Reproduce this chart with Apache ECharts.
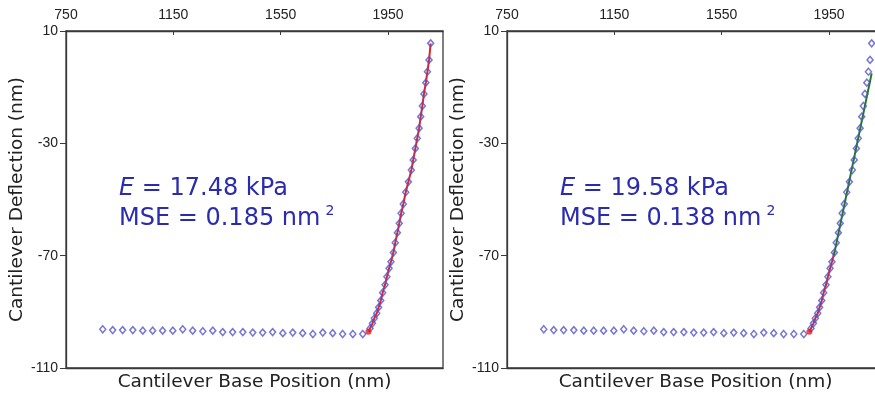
<!DOCTYPE html>
<html>
<head>
<meta charset="utf-8">
<script src="https://cdn.jsdelivr.net/npm/echarts@6/dist/echarts.min.js"></script>
<style>
  html, body { margin: 0; background: #fff; }
  #chart { width: 875px; height: 396px; }
</style>
</head>
<body>
<div id="chart"></div>
<script>
// Approach (flat) part of the force curve
const flatX = [887, 924, 961, 999, 1036, 1073, 1110, 1148, 1185, 1222, 1260, 1297, 1334, 1371,
  1409, 1446, 1483, 1520, 1558, 1595, 1632, 1670, 1707, 1744, 1781, 1819, 1856];
const flatY = [-96.2, -96.5, -96.5, -96.5, -96.7, -96.7, -96.7, -96.7, -96.2, -96.7, -96.9, -96.7, -97.2, -97.2,
  -97.2, -97.4, -97.4, -97.2, -97.6, -97.4, -97.6, -97.9, -97.4, -97.6, -97.9, -97.9, -97.9];

// contact point
const contactX = [1877];
const contactY = [-97.1];

// indentation (steep) part
const riseX = [1883, 1892, 1899, 1908, 1915, 1923, 1930, 1939, 1946, 1954, 1961, 1970, 1977, 1985,
  1992, 1999, 2007, 2016, 2026, 2037, 2044, 2052, 2059, 2066, 2072, 2078, 2084, 2091, 2097, 2103, 2109];
const riseY = [-95.9, -94.1, -92.3, -90.5, -88.4, -86.0, -83.2, -80.4, -77.5, -74.5, -72.2, -68.9, -65.4, -61.8,
  -58.5, -54.9, -51.6, -47.4, -43.7, -39.5, -35.9, -31.8, -28.2, -24.6, -20.5, -16.7, -12.4, -8.4, -4.5, -0.3, 5.6];

// fitted lines
const fitLeftX = [1877, 1883, 1892, 1899, 1908, 1915, 1923, 1930, 1939, 1946, 1954, 1961, 1970, 1977, 1985,
  1992, 1999, 2007, 2016, 2026, 2037, 2044, 2052, 2059, 2066, 2072, 2078, 2084, 2091, 2097, 2103, 2109];
const fitLeftY = [-97.1, -95.9, -94.1, -92.3, -90.5, -88.4, -86.0, -83.2, -80.4, -77.5, -74.5, -72.2, -68.9, -65.4, -61.8,
  -58.5, -54.9, -51.6, -47.4, -43.7, -39.5, -35.9, -31.8, -28.2, -24.6, -20.5, -16.7, -12.4, -8.4, -4.5, -0.3, 5.6];
const fitRightRedX = [1877, 1883, 1892, 1899, 1908, 1915, 1923, 1930, 1939, 1946, 1954, 1961, 1970];
const fitRightRedY = [-97.1, -95.9, -94.1, -92.3, -90.5, -88.4, -86.0, -83.2, -80.4, -77.5, -74.5, -72.2, -68.9];
const fitRightGreenX = [1968, 2109];
const fitRightGreenY = [-70.0, -5.1];

const xTicks = [750, 1150, 1550, 1950];
const yTicks = [-110, -70, -30, 10];
const xTitle = 'Cantilever Base Position (nm)';
const yTitle = 'Cantilever Deflection (nm)';
const panelText = [
  ['17.48', '0.185'],
  ['19.58', '0.138']
];

const zip = (xs, ys) => xs.map((x, i) => [x, ys[i]]);

const AXIS = '#3a3a3a';
const LABEL = '#222';
const BLUE = '#2b2bae';
const panelLeft = [66, 507];
const gridTop = 31, gridW = 377, gridH = 337;

const chart = echarts.init(document.getElementById('chart'));

const grid = [], xAxis = [], yAxis = [], series = [], graphic = [];

panelLeft.forEach((left, p) => {
  grid.push({
    left: left, top: gridTop, width: gridW, height: gridH,
    outerBoundsMode: 'none', containLabel: false,
    show: true, borderColor: AXIS, borderWidth: 1.3, backgroundColor: 'transparent'
  });
  // top axis with labels
  xAxis.push({
    gridIndex: p, type: 'value', position: 'top', min: 750, max: 2155,
    axisLine: { show: true, onZero: false, lineStyle: { color: AXIS, width: 1.3 } },
    axisTick: { show: true, inside: true, length: 4, customValues: xTicks, lineStyle: { color: AXIS } },
    axisLabel: {
      customValues: xTicks, formatter: (v) => String(v),
      color: LABEL, fontFamily: 'Liberation Sans', fontSize: 14, margin: 9
    },
    splitLine: { show: false }
  });
  // bottom axis carrying the title
  xAxis.push({
    gridIndex: p, type: 'value', position: 'bottom', min: 750, max: 2155,
    name: xTitle, nameLocation: 'middle', nameGap: 5,
    nameTextStyle: { color: LABEL, fontFamily: 'DejaVu Sans', fontSize: 18.5, verticalAlign: 'top' },
    axisLine: { show: true, onZero: false, lineStyle: { color: AXIS, width: 1.3 } },
    axisTick: { show: false }, axisLabel: { show: false }, splitLine: { show: false }
  });
  yAxis.push({
    gridIndex: p, type: 'value', min: -110, max: 10,
    name: yTitle, nameLocation: 'middle', nameGap: 35,
    nameTextStyle: { color: LABEL, fontFamily: 'DejaVu Sans', fontSize: 18.5 },
    axisLine: { show: true, onZero: false, lineStyle: { color: AXIS, width: 1.3 } },
    axisTick: { show: true, length: 6, customValues: yTicks, lineStyle: { color: AXIS } },
    axisLabel: {
      customValues: yTicks, formatter: (v) => String(v),
      color: LABEL, fontFamily: 'Liberation Sans', fontSize: 14, margin: 8
    },
    splitLine: { show: false }
  });

  const xi = p * 2;
  const lineCommon = { type: 'line', xAxisIndex: xi, yAxisIndex: p, showSymbol: false, symbol: 'none', silent: true, z: 2 };
  if (p === 0) {
    series.push(Object.assign({}, lineCommon, {
      data: zip(fitLeftX, fitLeftY), lineStyle: { color: '#e52222', width: 2 }
    }));
  } else {
    series.push(Object.assign({}, lineCommon, {
      data: zip(fitRightRedX, fitRightRedY), lineStyle: { color: '#e52222', width: 2 }
    }));
    series.push(Object.assign({}, lineCommon, {
      data: zip(fitRightGreenX, fitRightGreenY), lineStyle: { color: '#1f7a1f', width: 2 }
    }));
  }
  series.push({
    type: 'scatter', xAxisIndex: xi, yAxisIndex: p, z: 3,
    data: zip(flatX, flatY).concat(zip(riseX, riseY)),
    symbol: 'diamond', symbolSize: [6, 7],
    itemStyle: { color: 'rgba(255,255,255,0)', borderColor: '#5454c8', borderWidth: 1.5 }
  });
  series.push({
    type: 'scatter', xAxisIndex: xi, yAxisIndex: p, z: 4,
    data: zip(contactX, contactY), symbol: 'circle', symbolSize: 6,
    itemStyle: { color: '#ee1c1c' }
  });

  graphic.push({
    type: 'text', left: left + 53, top: 174,
    style: {
      text: '{i|E} = ' + panelText[p][0] + ' kPa\nMSE = ' + panelText[p][1] + ' nm{s|2}',
      fill: BLUE, fontFamily: 'DejaVu Sans', fontSize: 24, lineHeight: 30,
      rich: {
        i: { fontStyle: 'italic', fill: BLUE, fontFamily: 'DejaVu Sans', fontSize: 24, lineHeight: 30 },
        s: { fill: BLUE, fontFamily: 'DejaVu Sans', fontSize: 14, verticalAlign: 'top', padding: [0, 0, 10, 5] }
      }
    }
  });
});

chart.setOption({
  animation: false,
  backgroundColor: '#fff',
  grid, xAxis, yAxis, series, graphic
});
</script>
</body>
</html>
